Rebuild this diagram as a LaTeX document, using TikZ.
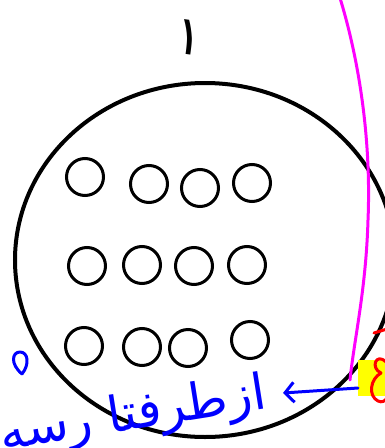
\documentclass[tikz,border=0pt]{standalone}
\usepackage{fontspec}
\newfontfamily\pfont[Script=Arabic]{DejaVu Sans}
\TeXXeTstate=1
\usetikzlibrary{arrows.meta}
\definecolor{hlblue}{RGB}{0,0,255}
\definecolor{hlmag}{RGB}{255,0,255}
\definecolor{hlred}{RGB}{255,0,0}
\definecolor{hlyellow}{RGB}{255,255,0}
\begin{document}
\begin{tikzpicture}[x=1pt,y=-1pt,
  hole/.style={draw=black, line width=3pt, circle, minimum size=37pt, inner sep=0pt},
  pen/.style={line width=3pt, line cap=round, line join=round}]
\useasboundingbox (0,0) rectangle (385,448);
\clip (0,0) rectangle (385,448);
% big circle
\draw[line width=4pt] (205,260) ellipse [x radius=190, y radius=177];
% holes
\node[hole] (h11) at (85,177) {};
\node[hole] (h12) at (149,184) {};
\node[hole] (h13) at (200,188) {};
\node[hole] (h14) at (252,183) {};
\node[hole] (h21) at (87,266) {};
\node[hole] (h22) at (142,265) {};
\node[hole] (h23) at (194,266) {};
\node[hole] (h24) at (247,265) {};
\node[hole] (h31) at (84,346) {};
\node[hole] (h32) at (142,347) {};
\node[hole] (h33) at (188,348) {};
\node[hole] (h34) at (250,340) {};
% top label
\node[rotate=-8] (one) at (189,38) {\pfont\fontsize{54}{54}\selectfont ۱};
% magenta line
\draw[pen, hlmag] (340,-2) .. controls (362,70) and (371,150) .. (368,220)
  .. controls (366,290) and (354,340) .. (350,380);
% yellow highlight
\fill[hlyellow] (358,360) rectangle (386,396);
% red marks
\draw[pen, hlred] (374,333) -- (387,329);
\draw[pen, hlred] (386,362) .. controls (376,352) and (370,368) .. (381,373)
  .. controls (370,379) and (368,396) .. (378,401) .. controls (382,403) and (385,401) .. (387,398);
% blue arrow
\coordinate (astart) at (358,388);
\coordinate (atip) at (283,393);
\draw[pen, hlblue, -{Straight Barb[length=9pt,width=20pt,line width=3pt]}] (astart) -- (atip);
% blue handwriting
\node[hlblue, anchor=base east, rotate=9, inner sep=0pt] (note) at (268,408)
  {\pfont\fontsize{50}{50}\selectfont\beginR ازطرفتا رسه\endR};
\draw[pen, hlblue] (22,374) .. controls (10,364) and (12,352) .. (20,352)
  .. controls (28,352) and (30,364) .. (22,374);
\end{tikzpicture}
\end{document}
